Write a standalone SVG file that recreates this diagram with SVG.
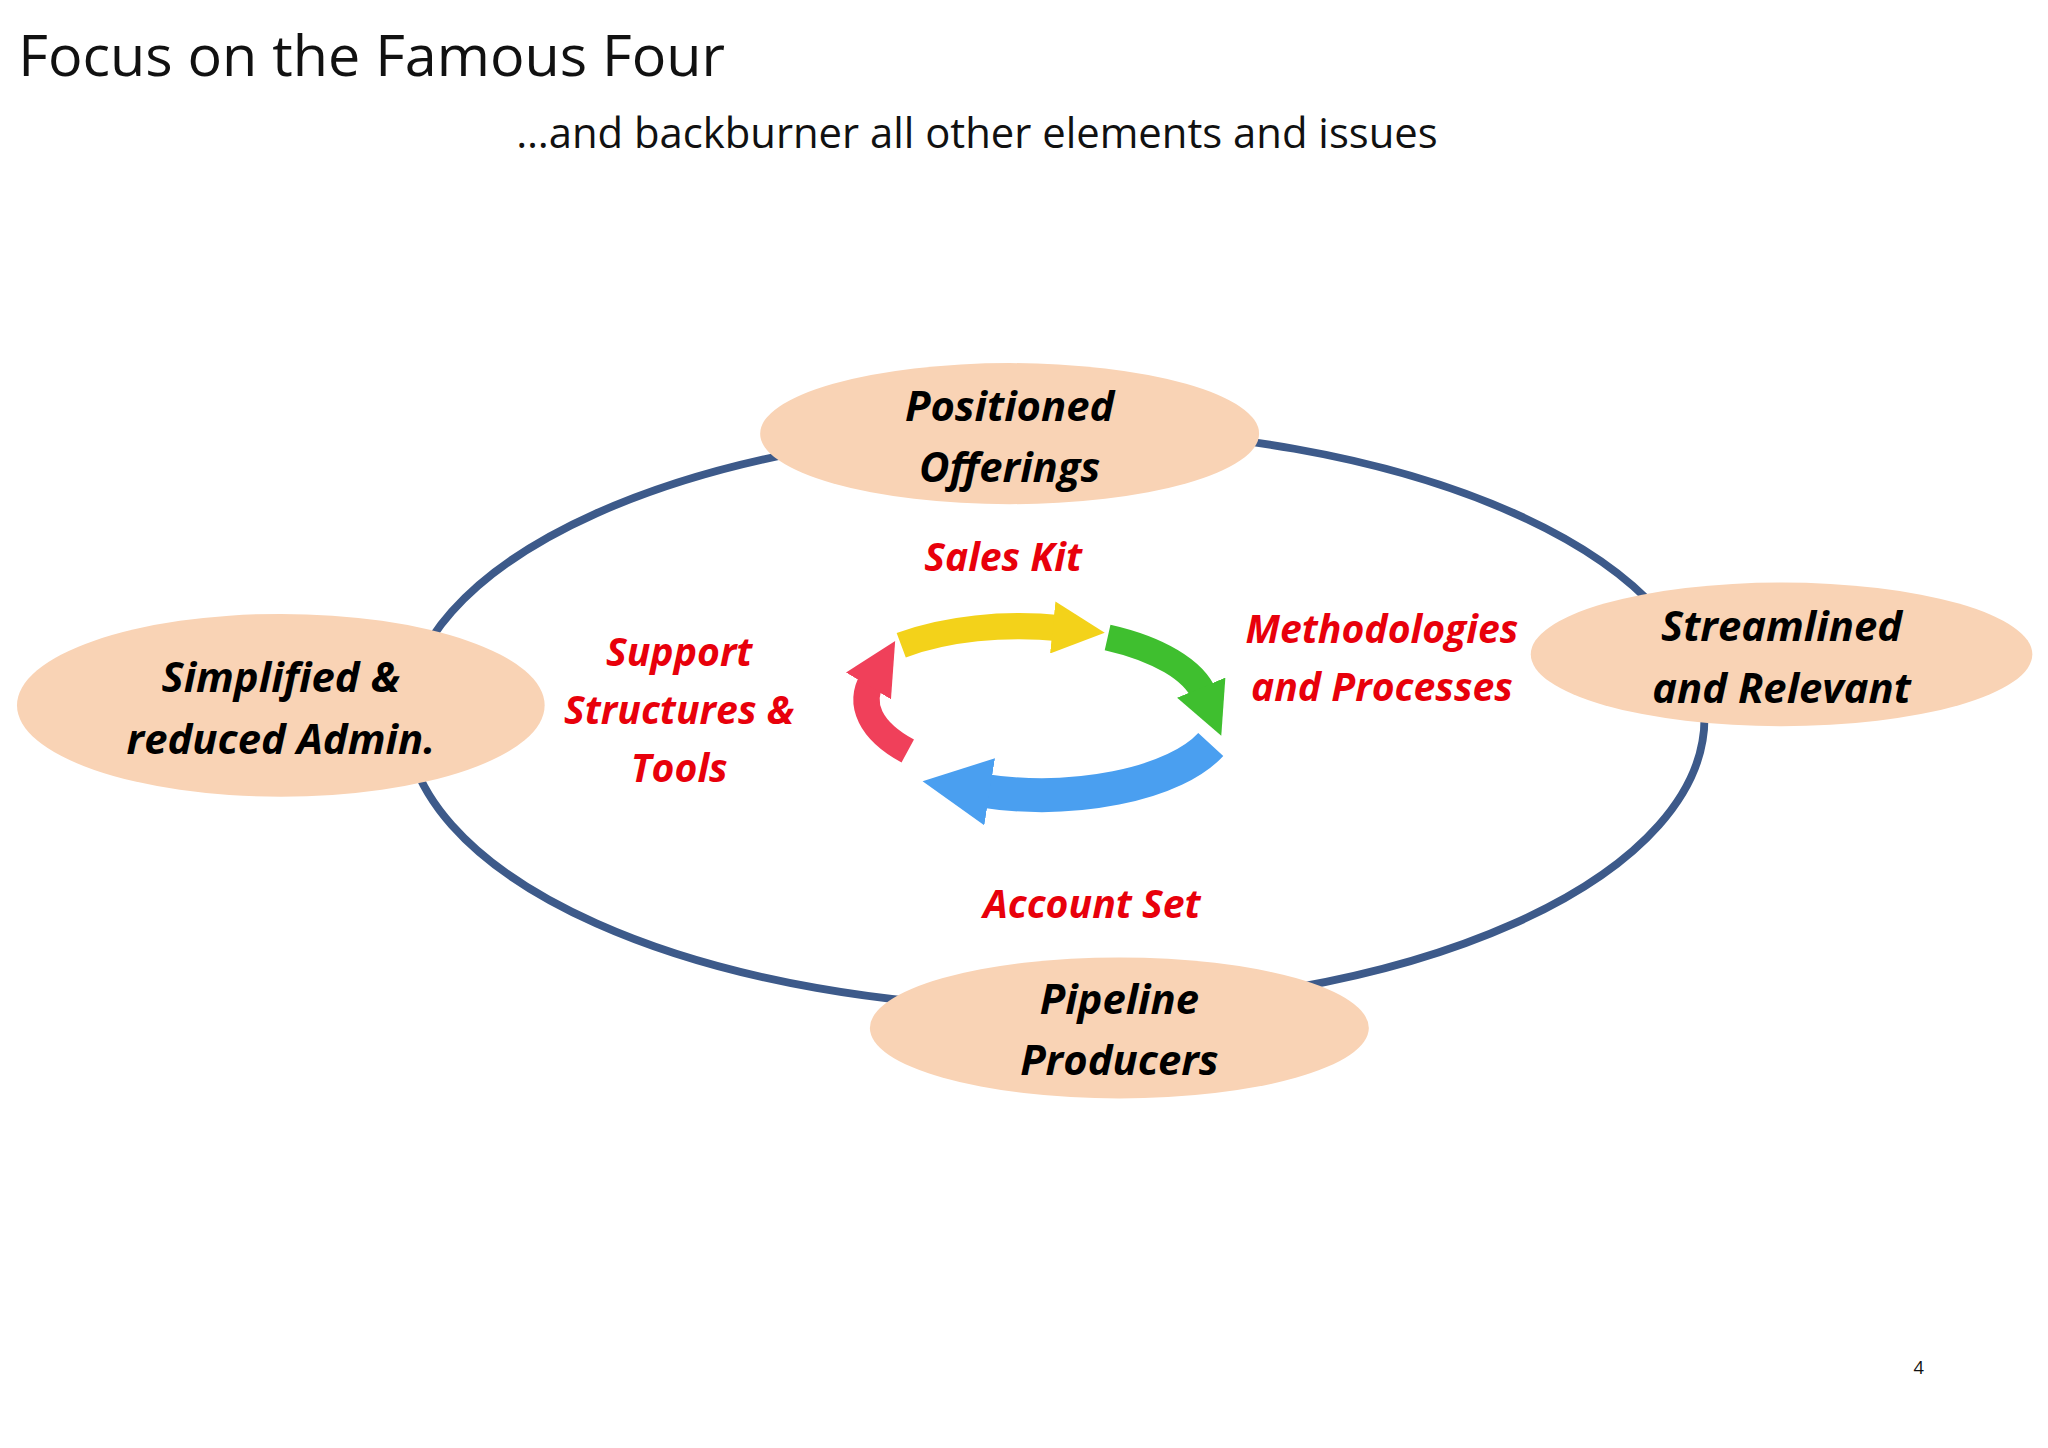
<svg xmlns="http://www.w3.org/2000/svg" width="2048" height="1448" viewBox="0 0 2048 1448">
<style>
.node{fill:#f9d3b5;stroke:none}
.nt{font-family:"Open Sans","Liberation Sans",sans-serif;font-weight:bold;font-style:italic;font-size:32px;fill:#000;text-anchor:middle}
.rt{font-family:"Open Sans","Liberation Sans",sans-serif;font-weight:bold;font-style:italic;font-size:30px;fill:#e8000b;text-anchor:middle}
.arc{fill:none;stroke-width:20;stroke-linecap:butt}
</style>
<defs>
<marker id="mY" markerWidth="2" markerHeight="2" refX="0.3" refY="1" orient="auto" markerUnits="strokeWidth"><path d="M0,0 L2,1 L0,2z" fill="#f3d21a"/></marker>
<marker id="mG" markerWidth="2" markerHeight="2" refX="0.3" refY="1" orient="auto" markerUnits="strokeWidth"><path d="M0,0 L2,1 L0,2z" fill="#3fbf2f"/></marker>
<marker id="mB" markerWidth="2" markerHeight="2" refX="0.3" refY="1" orient="auto" markerUnits="strokeWidth"><path d="M0,0 L2,1 L0,2z" fill="#4a9ff0"/></marker>
<marker id="mR" markerWidth="2" markerHeight="2" refX="0.3" refY="1" orient="auto" markerUnits="strokeWidth"><path d="M0,0 L2,1 L0,2z" fill="#f0405a"/></marker>
</defs>
<rect width="2048" height="1448" fill="#fff"/>
<g transform="scale(1.30612)">
<text x="14" y="58" font-family="'Open Sans','Liberation Sans',sans-serif" font-size="44" fill="#111">Focus on the Famous Four</text>
<text x="748" y="113" font-family="'Open Sans','Liberation Sans',sans-serif" font-size="32" fill="#111" text-anchor="middle">…and backburner all other elements and issues</text>
<g id="connectors">
<ellipse cx="808" cy="550" rx="497" ry="222" fill="none" stroke="#3d5a8a" stroke-width="6"/>
</g>
<g id="cycle">
<path class="arc" stroke="#f3d21a" d="M690,494 A140,62 0 0 1 812,481" marker-end="url(#mY)"/>
<path class="arc" stroke="#3fbf2f" d="M848,488 A140,62 0 0 1 922,532" marker-end="url(#mG)"/>
<path class="arc" stroke="#4a9ff0" style="stroke-width:26" d="M927,570 A140,62 0 0 1 750,605" marker-end="url(#mB)"/>
<path class="arc" stroke="#f0405a" d="M695,575 A140,62 0 0 1 668,520" marker-end="url(#mR)"/>
</g>
<g id="n1"><ellipse class="node" cx="773" cy="332" rx="191" ry="54"/><text class="nt" x="773" y="322">Positioned</text><text class="nt" x="773" y="369">Offerings</text></g>
<g id="n2"><ellipse class="node" cx="1364" cy="501" rx="192" ry="55"/><text class="nt" x="1364" y="491">Streamlined</text><text class="nt" x="1364" y="538">and Relevant</text></g>
<g id="n3"><ellipse class="node" cx="215" cy="540" rx="202" ry="70"/><text class="nt" x="215" y="530">Simplified &amp;</text><text class="nt" x="215" y="577">reduced Admin.</text></g>
<g id="n4"><ellipse class="node" cx="857" cy="787" rx="191" ry="54"/><text class="nt" x="857" y="776">Pipeline</text><text class="nt" x="857" y="823">Producers</text></g>
<g id="labels">
<text class="rt" x="768" y="437">Sales Kit</text>
<text class="rt" x="1058" y="492">Methodologies</text><text class="rt" x="1058" y="537">and Processes</text>
<text class="rt" x="520" y="510">Support</text><text class="rt" x="520" y="554">Structures &amp;</text><text class="rt" x="520" y="599">Tools</text>
<text class="rt" x="836" y="703">Account Set</text>
</g>
<text x="1469" y="1052" font-family="'Open Sans','Liberation Sans',sans-serif" font-size="14" fill="#111" text-anchor="middle">4</text>
</g>
</svg>
